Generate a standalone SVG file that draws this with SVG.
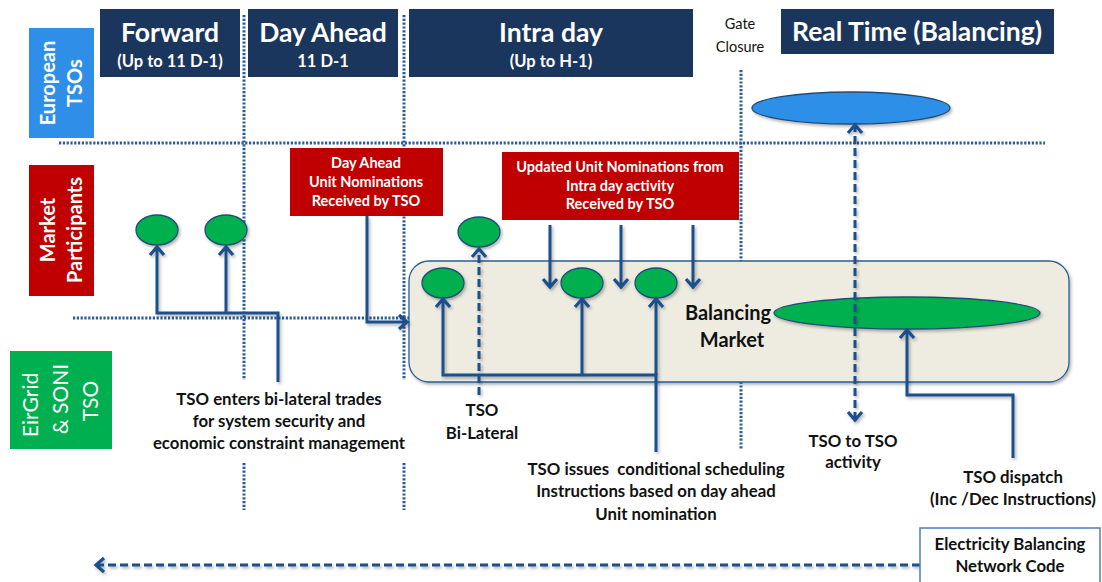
<svg xmlns="http://www.w3.org/2000/svg" width="1102" height="582" viewBox="0 0 1102 582">
  <style>
    text { font-family: Lato, "Liberation Sans", sans-serif; }
    .hdr { fill: #1b365d; }
    .hdr-t { fill: #fff; font-weight: bold; font-size: 26.5px; text-anchor: middle; }
    .hdr-s { fill: #fff; font-weight: bold; font-size: 16.5px; text-anchor: middle; }
    .side-t { fill: #fff; font-weight: bold; font-size: 20px; text-anchor: middle; }
    .side-n { fill: #fff; font-size: 21px; text-anchor: middle; }
    .red { fill: #c00000; }
    .red-t { fill: #fff; font-weight: bold; font-size: 14.5px; text-anchor: middle; }
    .lbl { fill: #111; font-weight: bold; font-size: 16.8px; text-anchor: middle; }
    .guide { fill: none; stroke: #2b5d93; stroke-width: 3; stroke-dasharray: 2.2 1.6; }
    .node { fill: #00b050; stroke: #1f4e79; stroke-width: 1.3; filter: url(#sh); }
    .flow { fill: none; stroke: #1a4f8b; stroke-width: 3; stroke-linejoin: miter; }
    .dash { stroke-dasharray: 8 4; }
  </style>
  <defs>
    <filter id="sh" x="-20%" y="-30%" width="140%" height="170%">
      <feDropShadow dx="1.5" dy="2" stdDeviation="1.5" flood-color="#000" flood-opacity="0.3"/>
    </filter>
    <marker id="ah" viewBox="-10 -10 20 20" markerWidth="20" markerHeight="20" markerUnits="userSpaceOnUse" orient="auto-start-reverse" refX="0" refY="0">
      <polyline points="-8,-7 0,0 -8,7" fill="none" stroke="#1a4f8b" stroke-width="3.2"/>
    </marker>
  </defs>

  <!-- timeline guides -->
  <g id="guides">
    <path class="guide" d="M244,15 V380 M244,463 V510"/>
    <path class="guide" d="M404,15 V380 M404,463 V510"/>
    <path class="guide" d="M741,70 V450"/>
    <path class="guide" d="M59,143 H1045"/>
    <path class="guide" d="M73,318 H409"/>
  </g>

  <!-- phase headers -->
  <g id="hdr-forward">
    <rect class="hdr" x="100" y="9" width="140" height="68"/>
    <text class="hdr-t" x="170" y="42">Forward</text>
    <text class="hdr-s" x="170" y="67">(Up to 11 D-1)</text>
  </g>
  <g id="hdr-dayahead">
    <rect class="hdr" x="248" y="9" width="150" height="68"/>
    <text class="hdr-t" x="323" y="42">Day Ahead</text>
    <text class="hdr-s" x="323" y="67">11 D-1</text>
  </g>
  <g id="hdr-intraday">
    <rect class="hdr" x="409" y="9" width="284" height="68"/>
    <text class="hdr-t" x="551" y="42">Intra day</text>
    <text class="hdr-s" x="551" y="67">(Up to H-1)</text>
  </g>
  <g id="gate-closure">
    <text x="740" y="29" font-size="14.5" fill="#111" text-anchor="middle">Gate</text>
    <text x="740" y="52" font-size="14.5" fill="#111" text-anchor="middle">Closure</text>
  </g>
  <g id="hdr-realtime">
    <rect class="hdr" x="781" y="9" width="273" height="45"/>
    <text class="hdr-t" x="917" y="41">Real Time (Balancing)</text>
  </g>

  <!-- swimlane labels -->
  <g id="lane-eu">
    <rect x="29" y="28" width="65" height="110" fill="#2f8fe8"/>
    <text class="side-t" transform="translate(55,83) rotate(-90)">European</text>
    <text class="side-t" transform="translate(82,83) rotate(-90)">TSOs</text>
  </g>
  <g id="lane-mp">
    <rect class="red" x="29" y="165" width="65" height="131"/>
    <text class="side-t" transform="translate(55,230) rotate(-90)">Market</text>
    <text class="side-t" transform="translate(82,230) rotate(-90)">Participants</text>
  </g>
  <g id="lane-tso">
    <rect x="10" y="351" width="102" height="98" fill="#00b050"/>
    <text class="side-n" transform="translate(38,405) rotate(-90)">EirGrid</text>
    <text class="side-n" transform="translate(68,399) rotate(-90)">&amp; SONI</text>
    <text class="side-n" transform="translate(98,401) rotate(-90)">TSO</text>
  </g>

  <!-- nomination boxes -->
  <g id="da-nominations">
    <rect class="red" x="290" y="148" width="153" height="68"/>
    <text class="red-t" x="366" y="168">Day Ahead</text>
    <text class="red-t" x="366" y="187">Unit Nominations</text>
    <text class="red-t" x="366" y="206">Received by TSO</text>
  </g>
  <g id="id-nominations">
    <rect class="red" x="502" y="152" width="237" height="68"/>
    <text class="red-t" x="620" y="172">Updated Unit Nominations from</text>
    <text class="red-t" x="620" y="191">Intra day activity</text>
    <text class="red-t" x="620" y="209">Received by TSO</text>
  </g>

  <!-- balancing market -->
  <g id="balancing-market">
    <rect x="409" y="261" width="660" height="121" rx="20" fill="#eeece1" stroke="#2b5d93" stroke-width="1.3" filter="url(#sh)"/>
    <text x="728" y="320" font-size="20" font-weight="bold" fill="#111" text-anchor="middle">Balancing</text>
    <text x="732" y="347" font-size="20" font-weight="bold" fill="#111" text-anchor="middle">Market</text>
  </g>

  <!-- participant units -->
  <g id="unit-fwd-1"><ellipse class="node" cx="157" cy="230" rx="21" ry="15"/></g>
  <g id="unit-fwd-2"><ellipse class="node" cx="226" cy="230" rx="21" ry="15"/></g>
  <g id="unit-bilateral"><ellipse class="node" cx="479" cy="232" rx="21" ry="15"/></g>
  <g id="unit-bm-1"><ellipse class="node" cx="443" cy="283" rx="21" ry="15"/></g>
  <g id="unit-bm-2"><ellipse class="node" cx="582" cy="283" rx="21" ry="15"/></g>
  <g id="unit-bm-3"><ellipse class="node" cx="656" cy="283" rx="21" ry="15"/></g>
  <g id="bm-pool"><ellipse class="node" cx="907" cy="313" rx="133" ry="16"/></g>
  <g id="eu-tsos"><ellipse cx="851" cy="108" rx="99" ry="16" fill="#2f8fe8" stroke="#1f4e79" stroke-width="1.3" filter="url(#sh)"/></g>

  <!-- connectors -->
  <g id="connectors" filter="url(#sh)">
    <path class="flow" d="M278,382 V313 H157 V247" marker-end="url(#ah)"/>
    <path class="flow" d="M226,313 V247" marker-end="url(#ah)"/>
    <path class="flow" d="M367,216 V322 H407" marker-end="url(#ah)"/>
    <path class="flow" d="M550,225 V287" marker-end="url(#ah)"/>
    <path class="flow" d="M621,225 V287" marker-end="url(#ah)"/>
    <path class="flow" d="M693,225 V287" marker-end="url(#ah)"/>
    <path class="flow" d="M656,452 V375 H443 V299" marker-end="url(#ah)"/>
    <path class="flow" d="M582,375 V299" marker-end="url(#ah)"/>
    <path class="flow" d="M656,375 V299" marker-end="url(#ah)"/>
    <path class="flow dash" d="M479,395 V249" marker-end="url(#ah)"/>
    <path class="flow dash" d="M855,420 V125" marker-start="url(#ah)" marker-end="url(#ah)"/>
    <path class="flow" d="M1013,458 V395 H907 V330" marker-end="url(#ah)"/>
    <path class="flow dash" d="M920,565 H96" marker-end="url(#ah)"/>
  </g>

  <!-- annotations -->
  <g id="note-bilateral-trades">
    <text class="lbl" x="279" y="405">TSO enters bi-lateral trades</text>
    <text class="lbl" x="279" y="427">for system security and</text>
    <text class="lbl" x="279" y="449">economic constraint management</text>
  </g>
  <g id="note-tso-bilateral">
    <text class="lbl" x="482" y="416">TSO</text>
    <text class="lbl" x="482" y="439">Bi-Lateral</text>
  </g>
  <g id="note-scheduling">
    <text class="lbl" x="656" y="475">TSO issues&#160; conditional scheduling</text>
    <text class="lbl" x="656" y="497">Instructions based on day ahead</text>
    <text class="lbl" x="656" y="520">Unit nomination</text>
  </g>
  <g id="note-tso-to-tso">
    <text class="lbl" x="853" y="447">TSO to TSO</text>
    <text class="lbl" x="853" y="468">activity</text>
  </g>
  <g id="note-dispatch">
    <text class="lbl" x="1013" y="483">TSO dispatch</text>
    <text class="lbl" x="1013" y="505">(Inc /Dec Instructions)</text>
  </g>
  <g id="network-code">
    <rect x="920" y="528" width="180" height="64" fill="#fff" stroke="#4a7ebb" stroke-width="1.5"/>
    <text class="lbl" x="1010" y="550">Electricity Balancing</text>
    <text class="lbl" x="1010" y="572">Network Code</text>
  </g>
</svg>
